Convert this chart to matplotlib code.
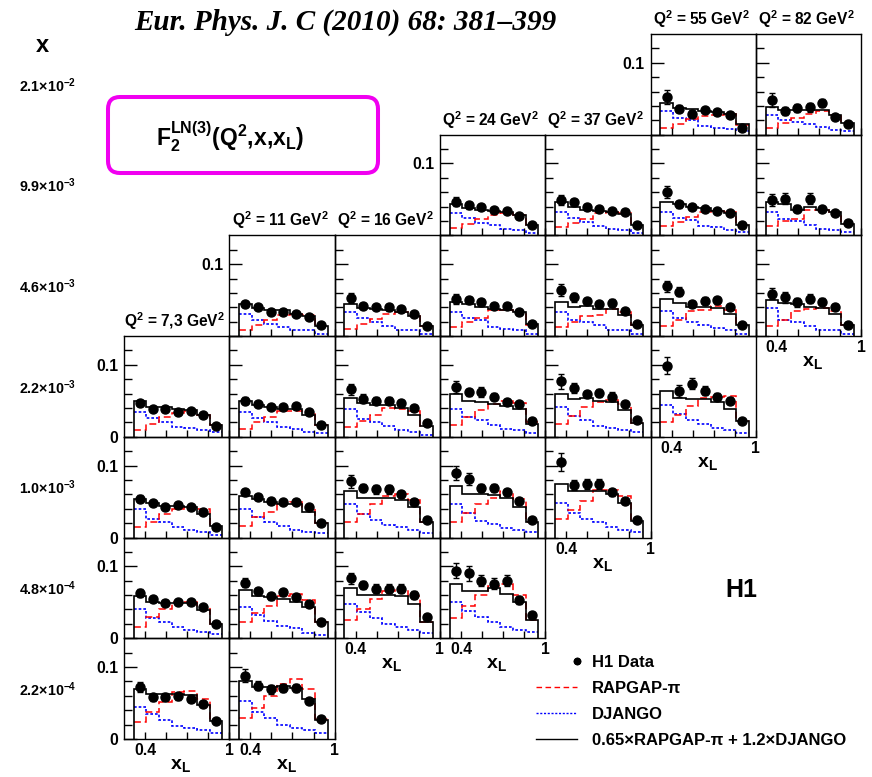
import matplotlib
matplotlib.use("Agg")
import matplotlib.pyplot as plt
from matplotlib.patches import FancyBboxPatch
from matplotlib.lines import Line2D
from matplotlib.legend_handler import HandlerLine2D

plt.rcParams['font.family'] = ['Liberation Sans', 'DejaVu Sans']
plt.rcParams['font.weight'] = 'bold'
plt.rcParams['mathtext.fontset'] = 'custom'
plt.rcParams['mathtext.rm'] = 'Liberation Sans:bold'
plt.rcParams['mathtext.it'] = 'Liberation Sans:bold'
plt.rcParams['mathtext.bf'] = 'Liberation Sans:bold'
plt.rcParams['mathtext.sf'] = 'Liberation Sans:bold'
plt.rcParams['mathtext.default'] = 'rm'

# ---------------- data ----------------
Q2_LABELS = ["7,3", "11", "16", "24", "37", "55", "82"]
X_LABELS = ["2.1×10$^{-2}$", "9.9×10$^{-3}$", "4.6×10$^{-3}$", "2.2×10$^{-3}$",
            "1.0×10$^{-3}$", "4.8×10$^{-4}$", "2.2×10$^{-4}$"]
XL_EDGES = [0.32, 0.41, 0.50, 0.59, 0.68, 0.77, 0.86, 0.95]
XL_CENTERS = [0.365, 0.455, 0.545, 0.635, 0.725, 0.815, 0.905]

# keys: (x-bin row, Q2 column)
H1_DATA = {
    (0, 5): [0.052, 0.036, 0.029, 0.034, 0.031, 0.028, 0.010],
    (0, 6): [0.048, 0.033, 0.037, 0.038, 0.044, 0.025, 0.015],
    (1, 3): [0.047, 0.042, 0.040, 0.035, 0.034, 0.027, 0.014],
    (1, 4): [0.049, 0.046, 0.040, 0.037, 0.034, 0.033, 0.015],
    (1, 5): [0.060, 0.043, 0.040, 0.037, 0.034, 0.031, 0.015],
    (1, 6): [0.049, 0.051, 0.037, 0.051, 0.037, 0.031, 0.017],
    (2, 1): [0.045, 0.040, 0.034, 0.034, 0.031, 0.027, 0.015],
    (2, 2): [0.053, 0.042, 0.040, 0.040, 0.037, 0.031, 0.014],
    (2, 3): [0.052, 0.050, 0.047, 0.042, 0.042, 0.033, 0.017],
    (2, 4): [0.064, 0.054, 0.049, 0.044, 0.046, 0.035, 0.017],
    (2, 5): [0.069, 0.062, 0.045, 0.049, 0.050, 0.041, 0.015],
    (2, 6): [0.059, 0.054, 0.047, 0.052, 0.048, 0.041, 0.016],
    (3, 0): [0.047, 0.039, 0.039, 0.035, 0.036, 0.030, 0.015],
    (3, 1): [0.050, 0.045, 0.042, 0.041, 0.043, 0.034, 0.016],
    (3, 2): [0.066, 0.053, 0.050, 0.050, 0.047, 0.040, 0.019],
    (3, 3): [0.069, 0.062, 0.062, 0.056, 0.048, 0.045, 0.022],
    (3, 4): [0.077, 0.068, 0.059, 0.061, 0.056, 0.045, 0.023],
    (3, 5): [0.099, 0.064, 0.074, 0.064, 0.056, 0.050, 0.022],
    (4, 0): [0.054, 0.048, 0.043, 0.045, 0.042, 0.036, 0.015],
    (4, 1): [0.063, 0.056, 0.051, 0.049, 0.050, 0.042, 0.020],
    (4, 2): [0.078, 0.069, 0.067, 0.067, 0.060, 0.049, 0.025],
    (4, 3): [0.090, 0.081, 0.069, 0.069, 0.063, 0.051, 0.024],
    (4, 4): [0.105, 0.073, 0.074, 0.074, 0.063, 0.051, 0.024],
    (5, 0): [0.063, 0.055, 0.049, 0.050, 0.050, 0.043, 0.020],
    (5, 1): [0.077, 0.065, 0.058, 0.064, 0.057, 0.048, 0.022],
    (5, 2): [0.083, 0.074, 0.069, 0.069, 0.069, 0.060, 0.030],
    (5, 3): [0.094, 0.090, 0.080, 0.076, 0.080, 0.053, 0.032],
    (6, 0): [0.072, 0.058, 0.058, 0.059, 0.056, 0.049, 0.025],
    (6, 1): [0.088, 0.074, 0.069, 0.071, 0.071, 0.053, 0.028],
}

H1_ERR = {
    (0, 5): [0.010, 0.005, 0.005, 0.003, 0.003, 0.003, 0.003],
    (0, 6): [0.010, 0.005, 0.006, 0.006, 0.006, 0.003, 0.003],
    (1, 3): [0.006, 0.005, 0.004, 0.003, 0.003, 0.003, 0.003],
    (1, 4): [0.007, 0.005, 0.004, 0.003, 0.003, 0.003, 0.003],
    (1, 5): [0.008, 0.005, 0.004, 0.003, 0.003, 0.003, 0.003],
    (1, 6): [0.008, 0.008, 0.005, 0.008, 0.004, 0.003, 0.003],
    (2, 1): [0.004, 0.003, 0.003, 0.003, 0.003, 0.003, 0.002],
    (2, 2): [0.007, 0.004, 0.003, 0.005, 0.003, 0.003, 0.003],
    (2, 3): [0.007, 0.005, 0.005, 0.004, 0.004, 0.003, 0.003],
    (2, 4): [0.008, 0.006, 0.004, 0.004, 0.005, 0.003, 0.003],
    (2, 5): [0.008, 0.006, 0.004, 0.005, 0.005, 0.004, 0.003],
    (2, 6): [0.008, 0.008, 0.006, 0.006, 0.005, 0.004, 0.003],
    (3, 0): [0.004, 0.003, 0.003, 0.003, 0.003, 0.003, 0.002],
    (3, 1): [0.005, 0.004, 0.003, 0.003, 0.003, 0.003, 0.003],
    (3, 2): [0.008, 0.006, 0.005, 0.005, 0.004, 0.004, 0.003],
    (3, 3): [0.008, 0.005, 0.007, 0.005, 0.004, 0.004, 0.003],
    (3, 4): [0.010, 0.007, 0.005, 0.006, 0.006, 0.004, 0.003],
    (3, 5): [0.012, 0.008, 0.008, 0.006, 0.005, 0.005, 0.003],
    (4, 0): [0.005, 0.003, 0.003, 0.003, 0.003, 0.003, 0.003],
    (4, 1): [0.005, 0.004, 0.004, 0.003, 0.003, 0.003, 0.003],
    (4, 2): [0.009, 0.006, 0.006, 0.006, 0.005, 0.004, 0.003],
    (4, 3): [0.010, 0.008, 0.006, 0.006, 0.005, 0.004, 0.003],
    (4, 4): [0.012, 0.007, 0.007, 0.007, 0.005, 0.004, 0.003],
    (5, 0): [0.006, 0.004, 0.004, 0.003, 0.003, 0.003, 0.003],
    (5, 1): [0.006, 0.005, 0.005, 0.005, 0.004, 0.004, 0.003],
    (5, 2): [0.008, 0.006, 0.006, 0.006, 0.006, 0.005, 0.003],
    (5, 3): [0.010, 0.010, 0.008, 0.008, 0.008, 0.005, 0.004],
    (6, 0): [0.007, 0.005, 0.006, 0.005, 0.005, 0.004, 0.003],
    (6, 1): [0.009, 0.006, 0.006, 0.006, 0.006, 0.004, 0.003],
}

RAPGAP_PI = {
    (0, 5): [0.009, 0.015, 0.022, 0.026, 0.028, 0.029, 0.014],
    (0, 6): [0.010, 0.016, 0.023, 0.029, 0.033, 0.028, 0.016],
    (1, 3): [0.010, 0.016, 0.023, 0.029, 0.031, 0.029, 0.014],
    (1, 4): [0.011, 0.017, 0.023, 0.031, 0.033, 0.031, 0.014],
    (1, 5): [0.013, 0.018, 0.025, 0.033, 0.034, 0.033, 0.014],
    (1, 6): [0.013, 0.020, 0.023, 0.036, 0.036, 0.033, 0.016],
    (2, 1): [0.009, 0.015, 0.022, 0.030, 0.031, 0.030, 0.014],
    (2, 2): [0.010, 0.017, 0.024, 0.031, 0.033, 0.030, 0.014],
    (2, 3): [0.013, 0.020, 0.025, 0.036, 0.036, 0.033, 0.016],
    (2, 4): [0.013, 0.020, 0.028, 0.030, 0.038, 0.034, 0.015],
    (2, 5): [0.014, 0.023, 0.035, 0.036, 0.042, 0.036, 0.015],
    (2, 6): [0.014, 0.022, 0.035, 0.038, 0.039, 0.035, 0.015],
    (3, 0): [0.010, 0.018, 0.027, 0.033, 0.036, 0.030, 0.016],
    (3, 1): [0.011, 0.021, 0.027, 0.036, 0.036, 0.034, 0.017],
    (3, 2): [0.014, 0.022, 0.031, 0.040, 0.039, 0.036, 0.015],
    (3, 3): [0.017, 0.027, 0.037, 0.045, 0.050, 0.047, 0.021],
    (3, 4): [0.018, 0.029, 0.042, 0.048, 0.051, 0.045, 0.019],
    (3, 5): [0.020, 0.031, 0.043, 0.054, 0.056, 0.057, 0.022],
    (4, 0): [0.014, 0.022, 0.032, 0.040, 0.043, 0.040, 0.016],
    (4, 1): [0.016, 0.028, 0.036, 0.047, 0.049, 0.042, 0.020],
    (4, 2): [0.022, 0.033, 0.046, 0.058, 0.060, 0.052, 0.022],
    (4, 3): [0.022, 0.034, 0.046, 0.055, 0.065, 0.053, 0.022],
    (4, 4): [0.026, 0.038, 0.051, 0.066, 0.066, 0.058, 0.023],
    (5, 0): [0.016, 0.029, 0.040, 0.051, 0.051, 0.044, 0.020],
    (5, 1): [0.022, 0.035, 0.045, 0.058, 0.062, 0.053, 0.022],
    (5, 2): [0.025, 0.040, 0.055, 0.066, 0.068, 0.058, 0.022],
    (5, 3): [0.028, 0.045, 0.060, 0.072, 0.075, 0.060, 0.025],
    (6, 0): [0.024, 0.037, 0.051, 0.065, 0.067, 0.055, 0.026],
    (6, 1): [0.029, 0.043, 0.060, 0.076, 0.083, 0.069, 0.028],
}

DJANGO = {
    (0, 5): [0.033, 0.023, 0.020, 0.012, 0.010, 0.008, 0.005],
    (0, 6): [0.027, 0.021, 0.018, 0.015, 0.011, 0.007, 0.005],
    (1, 3): [0.031, 0.024, 0.017, 0.014, 0.009, 0.008, 0.003],
    (1, 4): [0.033, 0.024, 0.019, 0.013, 0.009, 0.007, 0.003],
    (1, 5): [0.033, 0.024, 0.022, 0.013, 0.011, 0.007, 0.005],
    (1, 6): [0.033, 0.023, 0.020, 0.015, 0.009, 0.008, 0.005],
    (2, 1): [0.031, 0.023, 0.017, 0.013, 0.009, 0.008, 0.003],
    (2, 2): [0.033, 0.025, 0.020, 0.014, 0.009, 0.008, 0.003],
    (2, 3): [0.034, 0.025, 0.022, 0.013, 0.010, 0.008, 0.003],
    (2, 4): [0.034, 0.023, 0.020, 0.015, 0.009, 0.008, 0.003],
    (2, 5): [0.035, 0.025, 0.019, 0.015, 0.011, 0.009, 0.003],
    (2, 6): [0.039, 0.023, 0.020, 0.014, 0.009, 0.008, 0.003],
    (3, 0): [0.035, 0.026, 0.021, 0.014, 0.012, 0.009, 0.006],
    (3, 1): [0.035, 0.026, 0.021, 0.014, 0.011, 0.007, 0.005],
    (3, 2): [0.038, 0.025, 0.020, 0.015, 0.009, 0.007, 0.003],
    (3, 3): [0.039, 0.027, 0.023, 0.017, 0.011, 0.010, 0.005],
    (3, 4): [0.042, 0.029, 0.023, 0.015, 0.012, 0.010, 0.006],
    (3, 5): [0.044, 0.032, 0.023, 0.018, 0.012, 0.009, 0.005],
    (4, 0): [0.039, 0.026, 0.021, 0.015, 0.011, 0.008, 0.004],
    (4, 1): [0.039, 0.029, 0.021, 0.016, 0.010, 0.008, 0.006],
    (4, 2): [0.046, 0.033, 0.025, 0.018, 0.014, 0.010, 0.006],
    (4, 3): [0.046, 0.034, 0.023, 0.019, 0.013, 0.010, 0.007],
    (4, 4): [0.048, 0.034, 0.026, 0.022, 0.015, 0.010, 0.007],
    (5, 0): [0.040, 0.028, 0.022, 0.015, 0.011, 0.008, 0.006],
    (5, 1): [0.044, 0.032, 0.024, 0.017, 0.014, 0.007, 0.005],
    (5, 2): [0.048, 0.036, 0.028, 0.020, 0.015, 0.011, 0.007],
    (5, 3): [0.050, 0.038, 0.030, 0.022, 0.016, 0.012, 0.008],
    (6, 0): [0.045, 0.034, 0.026, 0.018, 0.015, 0.012, 0.008],
    (6, 1): [0.053, 0.038, 0.029, 0.020, 0.015, 0.012, 0.008],
}

COMBINED = {
    (0, 5): [0.044, 0.037, 0.036, 0.033, 0.031, 0.029, 0.015],
    (0, 6): [0.038, 0.034, 0.034, 0.034, 0.034, 0.028, 0.016],
    (1, 3): [0.043, 0.038, 0.036, 0.034, 0.033, 0.028, 0.015],
    (1, 4): [0.047, 0.039, 0.036, 0.034, 0.033, 0.030, 0.014],
    (1, 5): [0.047, 0.043, 0.040, 0.038, 0.034, 0.031, 0.015],
    (1, 6): [0.047, 0.043, 0.036, 0.039, 0.036, 0.033, 0.016],
    (2, 1): [0.045, 0.039, 0.036, 0.036, 0.031, 0.028, 0.014],
    (2, 2): [0.045, 0.039, 0.037, 0.036, 0.034, 0.028, 0.014],
    (2, 3): [0.048, 0.045, 0.040, 0.037, 0.036, 0.033, 0.017],
    (2, 4): [0.048, 0.041, 0.042, 0.037, 0.037, 0.030, 0.016],
    (2, 5): [0.051, 0.046, 0.041, 0.041, 0.039, 0.031, 0.015],
    (2, 6): [0.050, 0.046, 0.044, 0.041, 0.039, 0.031, 0.016],
    (3, 0): [0.050, 0.042, 0.042, 0.038, 0.037, 0.030, 0.016],
    (3, 1): [0.050, 0.044, 0.042, 0.039, 0.039, 0.031, 0.016],
    (3, 2): [0.054, 0.047, 0.044, 0.044, 0.040, 0.031, 0.015],
    (3, 3): [0.059, 0.050, 0.048, 0.045, 0.043, 0.038, 0.018],
    (3, 4): [0.060, 0.053, 0.054, 0.050, 0.048, 0.037, 0.019],
    (3, 5): [0.064, 0.054, 0.053, 0.053, 0.048, 0.039, 0.022],
    (4, 0): [0.053, 0.048, 0.044, 0.044, 0.043, 0.032, 0.016],
    (4, 1): [0.058, 0.053, 0.049, 0.047, 0.047, 0.036, 0.020],
    (4, 2): [0.065, 0.055, 0.055, 0.055, 0.052, 0.042, 0.022],
    (4, 3): [0.071, 0.061, 0.060, 0.059, 0.055, 0.043, 0.022],
    (4, 4): [0.074, 0.064, 0.064, 0.064, 0.061, 0.048, 0.023],
    (5, 0): [0.059, 0.051, 0.049, 0.049, 0.049, 0.039, 0.020],
    (5, 1): [0.067, 0.059, 0.057, 0.055, 0.051, 0.043, 0.022],
    (5, 2): [0.070, 0.060, 0.060, 0.060, 0.058, 0.048, 0.022],
    (5, 3): [0.075, 0.065, 0.065, 0.070, 0.062, 0.050, 0.025],
    (6, 0): [0.069, 0.063, 0.062, 0.063, 0.061, 0.047, 0.025],
    (6, 1): [0.081, 0.072, 0.072, 0.073, 0.071, 0.055, 0.026],
}

LEGEND_LABELS = ["H1 Data", "RAPGAP-π", "DJANGO", "0.65×RAPGAP-π + 1.2×DJANGO"]

# ---------------- layout ----------------
W, H = 872, 777
COL_LEFT, COL_W = 124.0, 105.3
ROW_TOP, ROW_H = 34.0, 100.7
MAGENTA = '#f000f0'

fig = plt.figure(figsize=(W / 100, H / 100), dpi=100)
fig.patch.set_facecolor('white')

bg = fig.add_axes([0, 0, 1, 1], zorder=0)
bg.set_xlim(0, W)
bg.set_ylim(H, 0)
bg.axis('off')

keys = list(H1_DATA.keys())
leftmost = {}
bottom_row = {}
top_row = {}
for r, c in keys:
    leftmost[r] = min(leftmost.get(r, 99), c)
    bottom_row[c] = max(bottom_row.get(c, -1), r)
    top_row[c] = min(top_row.get(c, 99), r)

for (r, c) in keys:
    left = COL_LEFT + c * COL_W
    top = ROW_TOP + r * ROW_H
    ax = fig.add_axes([left / W, 1 - (top + ROW_H) / H, COL_W / W, ROW_H / H], zorder=2)
    ax.set_facecolor('none')
    ax.stairs(DJANGO[(r, c)], XL_EDGES, baseline=None, color='#0000ff', lw=1.2,
              linestyle=(0, (1.6, 1.2)))
    ax.stairs(RAPGAP_PI[(r, c)], XL_EDGES, baseline=None, color='#ff0000', lw=1.1,
              linestyle=(0, (4.5, 2.5)))
    ax.stairs(COMBINED[(r, c)], XL_EDGES, baseline=0, fill=False, color='black', lw=1.2)
    ax.errorbar(XL_CENTERS, H1_DATA[(r, c)], yerr=H1_ERR[(r, c)], fmt='o', color='black',
                ms=6.5, elinewidth=1.0, capsize=2.2, capthick=1.0, zorder=5)
    ax.set_xlim(0.25, 1.0)
    ax.set_ylim(0, 0.14)
    for s in ax.spines.values():
        s.set_linewidth(1.0)
    ax.set_yticks([0.0, 0.1])
    ax.set_yticks([0.02, 0.04, 0.06, 0.08, 0.12], minor=True)
    ax.set_xticks([0.4, 0.55, 0.7, 0.85, 1.0])
    ax.tick_params(axis='y', which='major', direction='in', length=9.4, width=1.0,
                   left=True, right=False, labelsize=11.3, pad=4)
    ax.tick_params(axis='y', which='minor', direction='in', length=5.4, width=1.0,
                   left=True, right=False)
    ax.tick_params(axis='x', which='major', direction='in', length=5.4, width=1.0,
                   bottom=True, top=False, labelsize=11.3, pad=3)
    if leftmost[r] == c:
        ax.set_yticklabels(['0' if r >= 3 else '', '0.1'])
    else:
        ax.set_yticklabels(['', ''])
    if bottom_row[c] == r:
        ax.set_xticklabels(['0.4', '', '', '', '1'])
        ax.set_xlabel(r'$\mathrm{x_L}$', fontsize=14)
        ax.xaxis.set_label_coords(0.54, -0.18)
    else:
        ax.set_xticklabels(['', '', '', '', ''])
    if top_row[c] == r:
        bg.text(left + COL_W / 2 - 2, top - 4, 'Q$^{2}$ = ' + Q2_LABELS[c] + ' GeV$^{2}$',
                ha='center', va='bottom', fontsize=11.2, fontweight='bold')

# row labels (x values)
bg.text(42, 45, 'x', ha='center', va='center', fontsize=17, fontweight='bold')
for r, lab in enumerate(X_LABELS):
    bg.text(48, ROW_TOP + r * ROW_H + ROW_H / 2 + 1, lab, ha='center', va='center',
            fontsize=10.3, fontweight='bold')

# title
bg.text(345, 22, 'Eur. Phys. J. C (2010) 68: 381–399', ha='center', va='center',
        fontsize=21, fontweight='bold', style='italic', family='Liberation Serif')

# F2 box
box = FancyBboxPatch((118, 107), 250, 56, boxstyle='round,pad=10,rounding_size=12',
                     fill=False, edgecolor=MAGENTA, linewidth=2.9)
bg.add_patch(box)
bg.text(230, 137, r'$\mathrm{F_2^{LN(3)}(Q^2{,}x{,}x_L)}$', ha='center', va='center',
        fontsize=16.5)

# H1 label
bg.text(741, 590, 'H1', ha='center', va='center', fontsize=18, fontweight='bold')


class RightMarkerHandler(HandlerLine2D):
    """Places the single legend marker at the right end of the handle box."""
    def get_xdata(self, legend, xdescent, ydescent, width, height, fontsize):
        x = -xdescent + width
        return [x, x], [x, x]


# legend
handles = [
    Line2D([], [], marker='o', color='black', linestyle='none', ms=4.5),
    Line2D([], [], color='#ff0000', lw=1.0, linestyle=(0, (4, 2.5))),
    Line2D([], [], color='#0000ff', lw=1.0, linestyle=(0, (1.5, 1.2))),
    Line2D([], [], color='black', lw=1.0),
]
fig.legend(handles, LEGEND_LABELS, loc='upper left', bbox_to_anchor=(536 / W, 1 - 655 / H),
           frameon=False, fontsize=12, handlelength=2.45, handletextpad=0.9,
           labelspacing=0.66, borderaxespad=0, borderpad=0,
           handler_map={handles[0]: RightMarkerHandler(numpoints=2)})

fig.savefig('out.png', dpi=100, facecolor='white')
